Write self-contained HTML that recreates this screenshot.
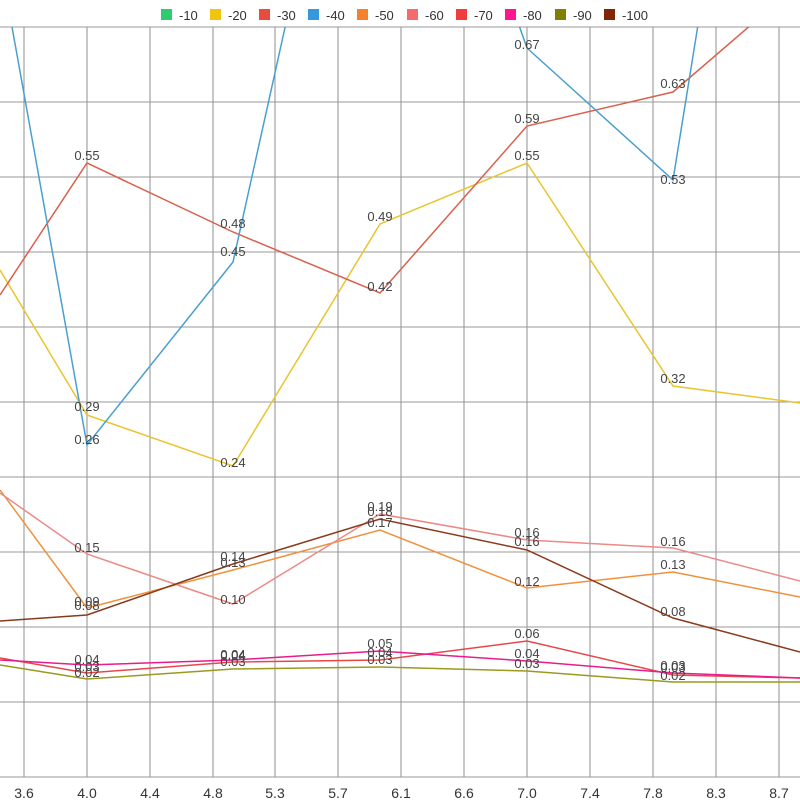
<!DOCTYPE html><html><head><style>body{margin:0;background:#fff}svg{font-family:"Liberation Sans",sans-serif}</style></head><body>
<svg width="800" height="800" xmlns="http://www.w3.org/2000/svg">
<defs><clipPath id="c"><rect x="0" y="27" width="800" height="750"/></clipPath></defs>
<g stroke="#999" stroke-width="1.1">
<line x1="24" y1="27" x2="24" y2="777"/><line x1="87" y1="27" x2="87" y2="777"/><line x1="150" y1="27" x2="150" y2="777"/><line x1="213" y1="27" x2="213" y2="777"/><line x1="275" y1="27" x2="275" y2="777"/><line x1="338" y1="27" x2="338" y2="777"/><line x1="401" y1="27" x2="401" y2="777"/><line x1="464" y1="27" x2="464" y2="777"/><line x1="527" y1="27" x2="527" y2="777"/><line x1="590" y1="27" x2="590" y2="777"/><line x1="653" y1="27" x2="653" y2="777"/><line x1="716" y1="27" x2="716" y2="777"/><line x1="779" y1="27" x2="779" y2="777"/>
<line x1="0" y1="27" x2="800" y2="27"/><line x1="0" y1="102" x2="800" y2="102"/><line x1="0" y1="177" x2="800" y2="177"/><line x1="0" y1="252" x2="800" y2="252"/><line x1="0" y1="327" x2="800" y2="327"/><line x1="0" y1="402" x2="800" y2="402"/><line x1="0" y1="477" x2="800" y2="477"/><line x1="0" y1="552" x2="800" y2="552"/><line x1="0" y1="627" x2="800" y2="627"/><line x1="0" y1="702" x2="800" y2="702"/><line x1="0" y1="777" x2="800" y2="777"/>
</g>
<g clip-path="url(#c)" fill="none" stroke-width="1.5">
<polyline stroke="#e8c530" points="0,270 87,415 233,466 380,224 527,163 673,386 800,403"/>
<polyline stroke="#d9604c" points="0,295 87,163 233,232 380,293 527,126 673,92 780,0"/>
<polyline stroke="#4a9fd0" points="0,-40 87,445 233,262 300,-40"/>
<polyline stroke="#4a9fd0" points="510,0 527,48 673,180 702,0"/>
<polyline stroke="#f0913c" points="0,490 87,608 233,570 380,530 527,588 673,572 800,597"/>
<polyline stroke="#eb8a86" points="0,493 87,554 233,604 380,514 527,540 673,548 800,581"/>
<polyline stroke="#8a3a1c" points="0,621 87,615 233,564 380,519 527,550 673,618 800,652"/>
<polyline stroke="#9a9a20" points="0,665 87,679 233,669 380,667 527,671 673,682 800,682"/>
<polyline stroke="#e8474a" points="0,658 87,673 233,662 380,660 527,641 673,675 800,678"/>
<polyline stroke="#e81c8c" points="0,660 87,665 233,660 380,651 527,661 673,673 800,678"/>
</g>
<g font-size="13" fill="#444" text-anchor="middle">
<text x="87" y="411">0.29</text><text x="233" y="467">0.24</text><text x="380" y="221">0.49</text><text x="527" y="160">0.55</text><text x="673" y="383">0.32</text>
<text x="87" y="160">0.55</text><text x="233" y="228">0.48</text><text x="380" y="291">0.42</text><text x="527" y="123">0.59</text><text x="673" y="88">0.63</text>
<text x="87" y="444">0.26</text><text x="233" y="256">0.45</text><text x="527" y="49">0.67</text><text x="673" y="184">0.53</text>
<text x="87" y="606">0.09</text><text x="233" y="567">0.13</text><text x="380" y="527">0.17</text><text x="527" y="586">0.12</text><text x="673" y="569">0.13</text>
<text x="87" y="552">0.15</text><text x="233" y="604">0.10</text><text x="380" y="511">0.19</text><text x="527" y="537">0.16</text><text x="673" y="546">0.16</text>
<text x="87" y="610">0.08</text><text x="233" y="561">0.14</text><text x="380" y="516">0.18</text><text x="527" y="546">0.16</text><text x="673" y="616">0.08</text>
<text x="87" y="664">0.04</text><text x="233" y="660">0.04</text><text x="380" y="657">0.04</text><text x="527" y="638">0.06</text><text x="673" y="672">0.03</text>
<text x="87" y="671">0.03</text><text x="233" y="659">0.04</text><text x="380" y="648">0.05</text><text x="527" y="658">0.04</text><text x="673" y="670">0.03</text>
<text x="87" y="677">0.02</text><text x="233" y="666">0.03</text><text x="380" y="664">0.03</text><text x="527" y="668">0.03</text><text x="673" y="680">0.02</text>
</g>
<g font-size="14" fill="#333" text-anchor="middle">
<text x="24" y="798">3.6</text><text x="87" y="798">4.0</text><text x="150" y="798">4.4</text><text x="213" y="798">4.8</text><text x="275" y="798">5.3</text><text x="338" y="798">5.7</text><text x="401" y="798">6.1</text><text x="464" y="798">6.6</text><text x="527" y="798">7.0</text><text x="590" y="798">7.4</text><text x="653" y="798">7.8</text><text x="716" y="798">8.3</text><text x="779" y="798">8.7</text>
</g>
<g font-size="13" fill="#333">
<rect x="161" y="9" width="11" height="11" fill="#2ecc71"/><text x="179" y="20">-10</text>
<rect x="210" y="9" width="11" height="11" fill="#f1c40f"/><text x="228" y="20">-20</text>
<rect x="259" y="9" width="11" height="11" fill="#e74c3c"/><text x="277" y="20">-30</text>
<rect x="308" y="9" width="11" height="11" fill="#3498db"/><text x="326" y="20">-40</text>
<rect x="357" y="9" width="11" height="11" fill="#f5822a"/><text x="375" y="20">-50</text>
<rect x="407" y="9" width="11" height="11" fill="#f56b6b"/><text x="425" y="20">-60</text>
<rect x="456" y="9" width="11" height="11" fill="#f03c3c"/><text x="474" y="20">-70</text>
<rect x="505" y="9" width="11" height="11" fill="#ff1493"/><text x="523" y="20">-80</text>
<rect x="555" y="9" width="11" height="11" fill="#808000"/><text x="573" y="20">-90</text>
<rect x="604" y="9" width="11" height="11" fill="#7f2704"/><text x="622" y="20">-100</text>
</g>
</svg></body></html>
